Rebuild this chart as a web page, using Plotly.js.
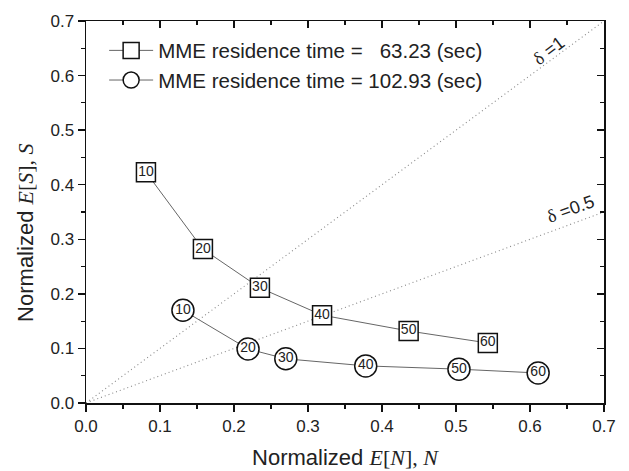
<!DOCTYPE html>
<html>
<head>
<meta charset="utf-8">
<script src="https://cdn.plot.ly/plotly-3.0.1.min.js"></script>
<style>html,body{margin:0;padding:0;background:#fff;}#chart{width:629px;height:471px;}</style>
</head>
<body>
<div id="chart"></div>
<script>
// Data
const pointLabels = ['10', '20', '30', '40', '50', '60'];
const squareN = [0.081, 0.158, 0.235, 0.319, 0.436, 0.543];
const squareS = [0.423, 0.282, 0.211, 0.161, 0.132, 0.110];
const circleN = [0.131, 0.219, 0.270, 0.378, 0.504, 0.611];
const circleS = [0.170, 0.099, 0.081, 0.068, 0.062, 0.055];
const seriesNames = ['MME residence time = \u00a0\u00a063.23 (sec)', 'MME residence time = 102.93 (sec)'];
const deltas = [1, 0.5];
const lineX = [0, 0.7];

const sans = "'Liberation Sans', Arial, sans-serif";

const traces = [];
deltas.forEach(d => {
  traces.push({x: lineX, y: lineX.map(v => v * d), mode: 'lines', showlegend: false, hoverinfo: 'skip',
    line: {color: '#888', width: 1.1, dash: '1px,3px'}});
});
traces.push({x: squareN, y: squareS, name: seriesNames[0], mode: 'lines+markers',
  line: {color: '#666', width: 1},
  marker: {symbol: 'square', size: 19, color: '#fff', line: {color: '#111', width: 1.5}}});
traces.push({x: circleN, y: circleS, name: seriesNames[1], mode: 'lines+markers',
  line: {color: '#666', width: 1},
  marker: {symbol: 'circle', size: 22, color: '#fff', line: {color: '#111', width: 1.5}}});
traces.push({x: squareN, y: squareS, text: pointLabels, mode: 'text', showlegend: false,
  textposition: 'middle center', textfont: {family: sans, size: 14, color: '#222'}});
traces.push({x: circleN, y: circleS, text: pointLabels, mode: 'text', showlegend: false,
  textposition: 'middle center', textfont: {family: sans, size: 14, color: '#222'}});
// helper trace for mirrored inside ticks
traces.push({x: [0], y: [0], xaxis: 'x2', yaxis: 'y2', mode: 'markers', marker: {opacity: 0}, showlegend: false, hoverinfo: 'skip'});

const axisCommon = {
  range: [0, 0.7], dtick: 0.1, tick0: 0, tickformat: '.1f',
  showgrid: false, zeroline: false, showline: true, linecolor: '#111', linewidth: 1.5,
  ticks: 'outside', ticklen: 7, tickwidth: 1.5, tickcolor: '#111',
  tickfont: {family: sans, size: 17, color: '#222'},
  minor: {ticks: 'outside', ticklen: 4, tickwidth: 1.2, tickcolor: '#111', dtick: 0.05, showgrid: false}
};

const layout = {
  width: 629, height: 471,
  margin: {l: 86, r: 25, t: 21, b: 68},
  paper_bgcolor: '#fff', plot_bgcolor: '#fff',
  font: {family: sans, color: '#222'},
  showlegend: true,
  legend: {x: 0.035, y: 0.975, xanchor: 'left', yanchor: 'top', bgcolor: 'rgba(0,0,0,0)',
    font: {family: sans, size: 20.5, color: '#222'}, tracegroupgap: 0, itemwidth: 44},
  xaxis: Object.assign({}, axisCommon, {
    title: {text: "Normalized <span style=\"font-family:Liberation Serif\"><i>E</i>[<i>N</i>], <i>N</i></span>",
      font: {family: sans, size: 22, color: '#222'}, standoff: 14}
  }),
  yaxis: Object.assign({}, axisCommon, {title: {text: ''}}),
  xaxis2: {overlaying: 'x', side: 'top', matches: 'x', range: [0, 0.7], dtick: 0.1, tick0: 0,
    showticklabels: false, showgrid: false, zeroline: false, showline: true, linecolor: '#111', linewidth: 1.5,
    ticks: 'inside', ticklen: 7, tickwidth: 1.5, tickcolor: '#111',
    minor: {ticks: 'inside', ticklen: 4, tickwidth: 1.2, tickcolor: '#111', dtick: 0.05}},
  yaxis2: {overlaying: 'y', side: 'right', matches: 'y', range: [0, 0.7], dtick: 0.1, tick0: 0,
    showticklabels: false, showgrid: false, zeroline: false, showline: true, linecolor: '#111', linewidth: 1.5,
    ticks: 'inside', ticklen: 7, tickwidth: 1.5, tickcolor: '#111',
    minor: {ticks: 'inside', ticklen: 4, tickwidth: 1.2, tickcolor: '#111', dtick: 0.05}},
  annotations: [
    {x: -0.118, y: 0.445, xref: 'paper', yref: 'paper', xanchor: 'center', yanchor: 'middle',
      showarrow: false, textangle: -90,
      text: "Normalized <span style=\"font-family:Liberation Serif\"><i>E</i>[<i>S</i>], <i>S</i></span>",
      font: {family: sans, size: 22, color: '#222'}},
    {x: 0.625, y: 0.645, xref: 'x', yref: 'y', showarrow: false, textangle: -37,
      text: "<span style=\"font-family:Liberation Serif\">δ</span> =1", font: {family: sans, size: 18, color: '#222'}},
    {x: 0.655, y: 0.356, xref: 'x', yref: 'y', showarrow: false, textangle: -20,
      text: "<span style=\"font-family:Liberation Serif\">δ</span> =0.5", font: {family: sans, size: 18, color: '#222'}}
  ]
};

Plotly.newPlot('chart', traces, layout, {displayModeBar: false, staticPlot: true});
</script>
</body>
</html>
